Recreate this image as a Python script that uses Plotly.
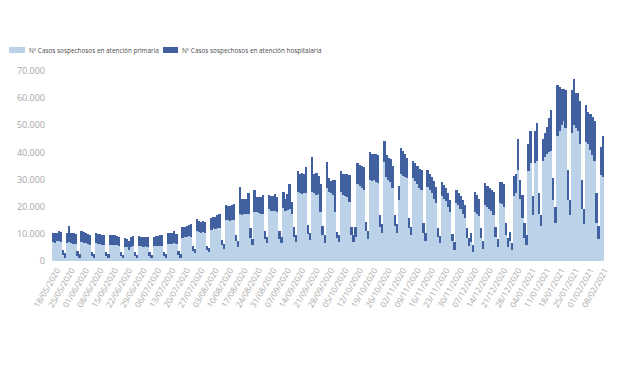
import plotly.graph_objects as go
import pandas as pd

# Daily values, one row per week (Mon..Sun), starting Monday 18/05/2020
primaria = [
    7000, 6800, 7200, 7300, 7000, 2200, 1200,
    6800, 7000, 6500, 6400, 6200, 2000, 1100,
    7000, 6800, 6500, 6200, 6000, 1900, 1100,
    6500, 6300, 6200, 6000, 5800, 1900, 1000,
    6000, 6000, 5800, 5800, 5600, 1800, 1000,
    5200, 5000, 4200, 5300, 5500, 1800, 1000,
    5500, 5400, 5300, 5400, 5300, 1800, 1000,
    5600, 5500, 5600, 5500, 5600, 1900, 1100,
    6200, 6400, 6400, 6600, 6300, 2200, 1200,
    8500, 8700, 9000, 9200, 9000, 3800, 2800,
    11000, 10600, 10500, 10800, 10200, 4200, 3300,
    11500, 12000, 11800, 12200, 12000, 5800, 4500,
    15000, 15000, 14800, 15200, 15000, 7200, 5300,
    17500, 17000, 17200, 17400, 17300, 8500, 6000,
    18200, 18200, 17800, 17500, 17200, 8000, 6600,
    19000, 18500, 18300, 18600, 18000, 8000, 6600,
    19500, 18500, 18700, 19000, 17500, 9000, 7000,
    25500, 25000, 24800, 25200, 25000, 10000, 7700,
    25500, 25000, 24500, 24800, 18000, 9500, 6800,
    27000, 25500, 25000, 24500, 18200, 8300, 7100,
    25500, 24500, 24000, 23500, 21800, 9500, 7000,
    9000, 28500, 27500, 27000, 26200, 11000, 8200,
    30000, 29500, 29800, 29000, 28600, 12500, 10200,
    36600, 31000, 30000, 29000, 27000, 13000, 10200,
    22500, 32000, 31500, 31000, 30500, 12000, 9600,
    30500, 29500, 28500, 27000, 26000, 10500, 7400,
    27400, 26000, 25000, 23000, 21400, 9000, 6500,
    24000, 23000, 22000, 20000, 18000, 7500, 4200,
    21400, 20500, 19000, 17500, 15700, 8500, 5500,
    7000, 3500, 18000, 17500, 16500, 8500, 4500,
    20500, 20000, 19000, 18500, 17000, 9000, 5000,
    21500, 21000, 20000, 9500, 5000, 7500, 4000,
    24000, 25000, 33500, 23000, 16000, 8500, 6000,
    33000, 36000, 17000, 36000, 37000, 17500, 13000,
    37000, 38500, 39500, 40000, 40500, 22500, 14000,
    46000, 48000, 50000, 51500, 49000, 22500, 17000,
    47000, 50000, 49000, 48000, 43000, 19000, 13500,
    44000, 43000, 41000, 39000, 37000, 14000, 8000,
    31700, 31000,
]

hospitalaria = [
    3500, 3400, 3300, 3800, 3600, 1800, 1600,
    3400, 6000, 3800, 3800, 3900, 1700, 1500,
    4000, 3900, 3800, 3600, 3500, 1600, 1500,
    4000, 3600, 3800, 3400, 3600, 1500, 1400,
    3600, 3400, 3600, 3400, 3300, 1500, 1300,
    3400, 3200, 3200, 3400, 3600, 1400, 1300,
    3600, 3500, 3600, 3400, 3500, 1400, 1300,
    3400, 3800, 3700, 3900, 3800, 1400, 1300,
    4000, 3800, 4100, 4600, 3800, 1500, 1400,
    4000, 4000, 3800, 4000, 4500, 1600, 1500,
    4500, 4200, 4000, 4100, 4000, 1500, 1400,
    4500, 4300, 4500, 4600, 5500, 1900, 1600,
    5500, 5200, 5500, 5400, 6000, 2500, 2000,
    9900, 5800, 5500, 5400, 7700, 3500, 2000,
    7800, 5300, 5600, 5900, 7300, 3000, 2400,
    5500, 5300, 5500, 6000, 5400, 3000, 2300,
    5800, 4500, 6000, 9400, 4300, 3600, 2500,
    7500, 7200, 7500, 7000, 9500, 3300, 2800,
    12900, 7000, 7800, 6500, 10500, 3500, 2800,
    9600, 5000, 4500, 5300, 11500, 2500, 2500,
    7500, 7500, 8000, 8500, 10000, 3000, 2500,
    3500, 7500, 8000, 8000, 8600, 3500, 3000,
    10300, 10000, 9500, 10500, 10400, 4400, 3500,
    7500, 8000, 8000, 8500, 8000, 4000, 3500,
    5000, 9500, 9000, 8500, 7500, 3800, 3000,
    6500, 6500, 6500, 7000, 7500, 3600, 3000,
    6000, 6000, 6000, 6500, 6000, 3000, 2600,
    5000, 5000, 5000, 5000, 4500, 2500, 2800,
    4600, 4500, 5000, 5000, 4900, 3500, 2800,
    3500, 2500, 7500, 7000, 6500, 3500, 3000,
    8200, 7500, 8000, 7500, 8500, 3600, 3000,
    7700, 8000, 8500, 4500, 3500, 3300, 2800,
    7500, 7000, 11500, 7000, 8500, 5500, 3500,
    10000, 12000, 7000, 12000, 14000, 7500, 4000,
    8000, 8500, 10000, 12600, 15000, 8000, 5800,
    18800, 16000, 13500, 12000, 14000, 11000, 5500,
    16000, 17000, 13000, 14000, 16000, 11000, 5500,
    13400, 12000, 13000, 14000, 14600, 11000, 5000,
    10300, 15000,
]

series_names = ["Nº Casos sospechosos en atención primaria",
                "Nº Casos sospechosos en atención hospitalaria"]
series_colors = ["#bcd2e9", "#4160a0"]

fechas = pd.date_range("2020-05-18", periods=len(primaria), freq="D")
tick_fechas = pd.date_range("2020-05-18", "2021-02-08", freq="7D")
tick_textos = [d.strftime("%d/%m/%Y") for d in tick_fechas]
y_ticks = [0, 10000, 20000, 30000, 40000, 50000, 60000, 70000]

FONT = "Open Sans"
fig = go.Figure()
for vals, name, col in zip([primaria, hospitalaria], series_names, series_colors):
    fig.add_trace(go.Bar(
        x=fechas, y=vals, name=name,
        marker=dict(color=col, line=dict(width=0)),
    ))

# The page body adds an 8px offset; figure coordinates below compensate for it.
OFF = 8
W, HGT = 620 - OFF, 368 - OFF
L, T, H = 52 - OFF, 71 - OFF, 190
PW = 552
def px_x(p):
    return (p - OFF - L) / PW
def px_y(p):
    return (T + H - (p - OFF)) / H

# Legend drawn in the top margin: swatch + real text for each series
legend_items = [(9, 25, 27), (163, 178, 180)]
for (sx0, sx1, tx), name, col in zip(legend_items, series_names, series_colors):
    fig.add_shape(type="rect", xref="paper", yref="paper",
                  x0=px_x(sx0), x1=px_x(sx1), y0=px_y(53), y1=px_y(47),
                  fillcolor=col, line=dict(width=0))
    fig.add_annotation(xref="paper", yref="paper", x=px_x(tx), y=px_y(50),
                       xanchor="left", yanchor="middle", showarrow=False,
                       text=name, font=dict(family=FONT, size=6.4, color="#4a4a4a"))

fig.update_layout(
    width=W, height=HGT,
    barmode="stack", bargap=0.12,
    separators=",.",
    paper_bgcolor="white", plot_bgcolor="white",
    margin=dict(l=L, r=W - L - PW, t=T, b=HGT - T - H, autoexpand=False),
    font=dict(family=FONT, size=8, color="#999999"),
    showlegend=False,
    xaxis=dict(
        type="date",
        range=["2020-05-17 12:00", "2021-02-09 12:00"],
        tickvals=list(tick_fechas), ticktext=tick_textos,
        tickangle=-60, tickfont=dict(size=8.3, color="#aaaaaa"),
        ticklabelshift=4, ticklabelstandoff=2,
        showgrid=False, zeroline=False, showline=False, ticks="",
    ),
    yaxis=dict(
        range=[0, 70000], tickvals=y_ticks, tickformat=",d",
        tickfont=dict(size=9, color="#a6a6a6"),
        showgrid=False, zeroline=False, showline=False, ticks="",
        ticklabelstandoff=6,
    ),
)

fig.write_html("out.html")
